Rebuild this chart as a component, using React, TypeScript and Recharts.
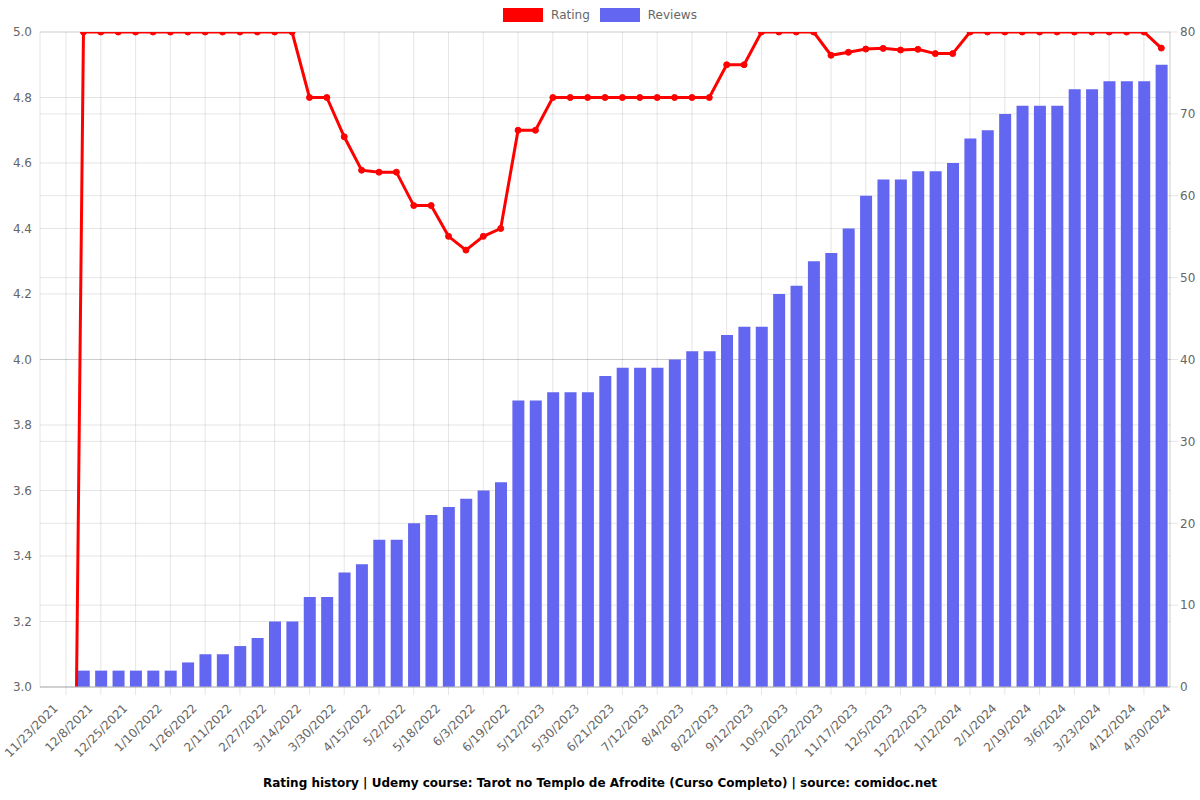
import {
  Bar,
  CartesianGrid,
  ComposedChart,
  Legend,
  Line,
  XAxis,
  YAxis,
} from "recharts";

// x categories (only every other label is shown in the chart)
const dates = [
  "11/23/2021", "12/1/2021", "12/8/2021", "12/16/2021", "12/25/2021", "1/2/2022",
  "1/10/2022", "1/18/2022", "1/26/2022", "2/3/2022", "2/11/2022", "2/19/2022",
  "2/27/2022", "3/7/2022", "3/14/2022", "3/22/2022", "3/30/2022", "4/7/2022",
  "4/15/2022", "4/24/2022", "5/2/2022", "5/10/2022", "5/18/2022", "5/26/2022",
  "6/3/2022", "6/11/2022", "6/19/2022", "5/3/2023", "5/12/2023", "5/21/2023",
  "5/30/2023", "6/10/2023", "6/21/2023", "7/1/2023", "7/12/2023", "7/24/2023",
  "8/4/2023", "8/13/2023", "8/22/2023", "9/1/2023", "9/12/2023", "9/24/2023",
  "10/5/2023", "10/13/2023", "10/22/2023", "11/4/2023", "11/17/2023", "11/26/2023",
  "12/5/2023", "12/13/2023", "12/22/2023", "1/1/2024", "1/12/2024", "1/22/2024",
  "2/1/2024", "2/10/2024", "2/19/2024", "2/27/2024", "3/6/2024", "3/14/2024",
  "3/23/2024", "4/2/2024", "4/12/2024", "4/21/2024", "4/30/2024",
];

const ratings = [
  0, 0, 5, 5, 5, 5, 5, 5, 5, 5, 5, 5, 5, 5, 5,
  4.8, 4.8, 4.68, 4.578, 4.572, 4.572, 4.47, 4.47, 4.376, 4.334, 4.376, 4.4,
  4.7, 4.7, 4.8, 4.8, 4.8, 4.8, 4.8, 4.8, 4.8, 4.8, 4.8, 4.8,
  4.9, 4.9, 5, 5, 5, 5,
  4.929, 4.938, 4.948, 4.95, 4.945, 4.947, 4.934, 4.934,
  5, 5, 5, 5, 5, 5, 5, 5, 5, 5, 5, 4.951,
];

const reviews = [
  0, 0, 2, 2, 2, 2, 2, 2, 3, 4, 4, 5, 6, 8, 8,
  11, 11, 14, 15, 18, 18, 20, 21, 22, 23, 24, 25,
  35, 35, 36, 36, 36, 38, 39, 39, 39, 40, 41, 41,
  43, 44, 44, 48, 49, 52, 53, 56, 60, 62, 62, 63, 63, 64,
  67, 68, 70, 71, 71, 71, 73, 73, 74, 74, 74, 76,
];

const ratingTicks = [3, 3.2, 3.4, 3.6, 3.8, 4, 4.2, 4.4, 4.6, 4.8, 5];
const reviewTicks = [0, 10, 20, 30, 40, 50, 60, 70, 80];

const data = dates.map((date, i) => ({
  date,
  rating: ratings[i],
  reviews: reviews[i],
}));

const FONT = "'DejaVu Sans', sans-serif";
const GRID = "rgba(0,0,0,0.1)";
const RED = "#ff0000";
const BLUE = "#6366f1";

function DateTick(props: any) {
  const { x, y, payload, index } = props;
  if (index % 2 === 1) {
    return <line x1={x} y1={y - 8} x2={x} y2={y} stroke={GRID} />;
  }
  const tx = x + 10;
  const ty = y + 14;
  return (
    <text
      x={tx}
      y={ty}
      transform={`rotate(-45 ${tx} ${ty})`}
      textAnchor="end"
      fontSize={12}
      fontFamily={FONT}
      fill="#666"
    >
      {payload.value}
    </text>
  );
}

function ChartLegend() {
  const item = (color: string, label: string) => (
    <span style={{ display: "inline-flex", alignItems: "center", margin: "0 5px" }}>
      <span style={{ width: 40, height: 14, background: color, display: "inline-block", marginRight: 8 }} />
      <span style={{ fontSize: 12, color: "#666", fontFamily: FONT }}>{label}</span>
    </span>
  );
  return (
    <div style={{ height: 32, display: "flex", justifyContent: "center", alignItems: "flex-start", paddingTop: 8, boxSizing: "border-box" }}>
      {item(RED, "Rating")}
      {item(BLUE, "Reviews")}
    </div>
  );
}

export default function App() {
  const n = data.length;
  return (
    <div style={{ position: "absolute", left: 0, top: 0, width: 1200, height: 800, background: "#fff" }}>
      <ComposedChart width={1200} height={800} data={data} margin={{ top: 0, right: 0, left: 0, bottom: 33 }}>
        <Legend verticalAlign="top" align="center" content={() => <ChartLegend />} />
        <CartesianGrid yAxisId="left" vertical={false} stroke={GRID} />
        <CartesianGrid
          yAxisId="right"
          stroke={GRID}
          verticalCoordinatesGenerator={({ offset }: any) =>
            dates
              .map((_, i) => offset.left + ((i + 0.5) * offset.width) / n)
              .filter((_, i) => i % 2 === 1)
              .concat([offset.left + offset.width])
          }
        />
        <XAxis
          dataKey="date"
          interval={0}
          height={80}
          tickLine={false}
          tickSize={8}
          tickMargin={0}
          tick={<DateTick />}
          axisLine={{ stroke: "#bbb" }}
        />
        <YAxis
          yAxisId="left"
          width={40}
          domain={[3, 5]}
          ticks={ratingTicks}
          allowDataOverflow
          tickFormatter={(v: number) => v.toFixed(1)}
          tick={{ fontSize: 12, fill: "#666", fontFamily: FONT }}
          tickLine={false}
          axisLine={{ stroke: GRID }}
        />
        <YAxis
          yAxisId="right"
          orientation="right"
          width={30}
          domain={[0, 80]}
          ticks={reviewTicks}
          tick={{ fontSize: 12, fill: "#666", fontFamily: FONT }}
          tickSize={8}
          tickMargin={2}
          tickLine={{ stroke: GRID }}
          axisLine={{ stroke: GRID }}
        />
        <Bar yAxisId="right" dataKey="reviews" name="Reviews" fill={BLUE} barSize={12} isAnimationActive={false} />
        <Line
          yAxisId="left"
          type="linear"
          dataKey="rating"
          name="Rating"
          stroke={RED}
          strokeWidth={3}
          dot={{ r: 3, fill: RED, stroke: RED, strokeWidth: 1 }}
          isAnimationActive={false}
        />
      </ComposedChart>
      <div
        style={{
          position: "absolute",
          left: 0,
          width: 1200,
          top: 776,
          textAlign: "center",
          fontFamily: FONT,
          fontWeight: "bold",
          fontSize: 12,
          color: "#000",
        }}
      >
        Rating history | Udemy course: Tarot no Templo de Afrodite (Curso Completo) | source: comidoc.net
      </div>
    </div>
  );
}
